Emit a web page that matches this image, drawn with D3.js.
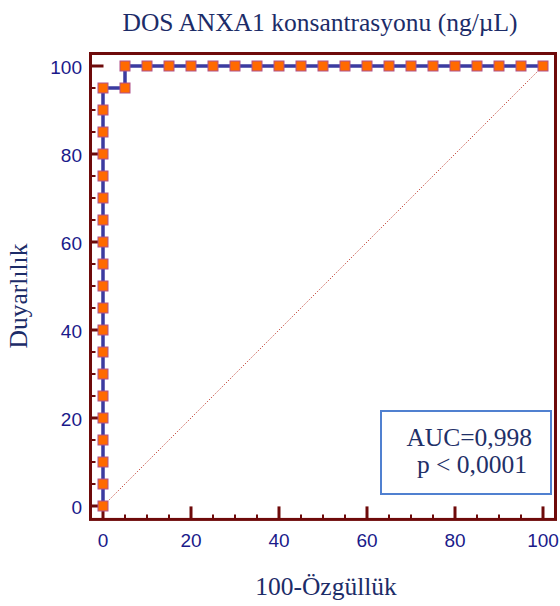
<!DOCTYPE html>
<html>
<head>
<meta charset="utf-8">
<script src="https://cdn.jsdelivr.net/npm/d3@7"></script>
<style>
body{margin:0;background:#fff;}
svg{display:block;}
</style>
</head>
<body>
<svg id="c" width="560" height="606"></svg>
<script>
const fpr = [0,0,0,0,0,0,0,0,0,0,0,0,0,0,0,0,0,0,0,0,5,5,10,15,20,25,30,35,40,45,50,55,60,65,70,75,80,85,90,95,100];
const sens = [0,5,10,15,20,25,30,35,40,45,50,55,60,65,70,75,80,85,90,95,95,100,100,100,100,100,100,100,100,100,100,100,100,100,100,100,100,100,100,100,100];
const tickVals = [0,20,40,60,80,100];
const minorVals = d3.range(0,101,5);
const title = "DOS ANXA1 konsantrasyonu (ng/\u00B5L)";
const xTitle = "100-Özgüllük";
const yTitle = "Duyarlılık";
const legendLines = ["AUC=0,998","p < 0,0001"];

const svg = d3.select("#c");
const x = d3.scaleLinear().domain([0,100]).range([103,543]);
const y = d3.scaleLinear().domain([0,100]).range([506,66]);
const fL = x(-2.84), fR = x(102.84), fT = y(102.84), fB = y(-3.05);
const frameCol = "#6e0a0a";
const tickCol = "#1a1a8a";
const serif = "'Liberation Serif', 'Times New Roman', serif";
const sans = "'Liberation Sans', Arial, sans-serif";

// diagonal
svg.append("line").attr("x1",x(0)).attr("y1",y(0)).attr("x2",x(100)).attr("y2",y(100))
  .attr("stroke","#c0392b").attr("stroke-width",1).attr("stroke-dasharray","1.2,1.8");

// ticks (inward)
const gx = svg.append("g");
minorVals.forEach(v=>{
  const major = v%20===0;
  gx.append("line").attr("x1",x(v)).attr("x2",x(v)).attr("y1",fB).attr("y2",fB-(major?13:5))
    .attr("stroke",frameCol).attr("stroke-width",major?3:2);
  gx.append("line").attr("y1",y(v)).attr("y2",y(v)).attr("x1",fL).attr("x2",fL+(major?13:5))
    .attr("stroke",frameCol).attr("stroke-width",major?3:2);
});

// frame
svg.append("rect").attr("x",fL).attr("y",fT).attr("width",fR-fL).attr("height",fB-fT)
  .attr("fill","none").attr("stroke",frameCol).attr("stroke-width",3);

// tick labels
svg.append("g").selectAll("text").data(tickVals).join("text")
  .attr("x",d=>x(d)).attr("y",547).attr("text-anchor","middle")
  .attr("font-family",sans).attr("font-size",19)
  .attr("fill",tickCol).text(d=>d);
svg.append("g").selectAll("text").data(tickVals).join("text")
  .attr("x",82).attr("y",d=>y(d)+7.5).attr("text-anchor","end")
  .attr("font-family",sans).attr("font-size",19)
  .attr("fill",tickCol).text(d=>d);

// ROC line
const pts = fpr.map((f,i)=>[f,sens[i]]);
svg.append("path").datum(pts)
  .attr("d",d3.line().x(d=>x(d[0])).y(d=>y(d[1])))
  .attr("fill","none").attr("stroke","#3b3ba0").attr("stroke-width",3.5);

// markers
svg.append("g").selectAll("rect").data(pts).join("rect")
  .attr("x",d=>x(d[0])-5).attr("y",d=>y(d[1])-5).attr("width",10).attr("height",10)
  .attr("fill","#ff6a00").attr("stroke","#b0508a").attr("stroke-width",1);

// legend
svg.append("rect").attr("x",381).attr("y",411).attr("width",170).attr("height",83)
  .attr("fill","#fff").attr("stroke","#5080d0").attr("stroke-width",2);
svg.append("text").attr("x",532).attr("y",446).attr("text-anchor","end")
  .attr("font-family",serif).attr("font-size",25.5).attr("fill","#1f3068").text(legendLines[0]);
svg.append("text").attr("x",527).attr("y",473).attr("text-anchor","end")
  .attr("font-family",serif).attr("font-size",25.5).attr("fill","#1f3068").text(legendLines[1]);

// titles
svg.append("text").attr("x",320).attr("y",31).attr("text-anchor","middle")
  .attr("font-family",serif).attr("font-size",25.5)
  .attr("fill","#1c2c68").text(title);
svg.append("text").attr("x",326).attr("y",595).attr("text-anchor","middle")
  .attr("font-family",serif).attr("font-size",25.5)
  .attr("fill","#1c2c68").text(xTitle);
svg.append("text").attr("transform","translate(27,296) rotate(-90)").attr("text-anchor","middle")
  .attr("font-family",serif).attr("font-size",25.5)
  .attr("fill","#1c2c68").text(yTitle);
</script>
</body>
</html>
